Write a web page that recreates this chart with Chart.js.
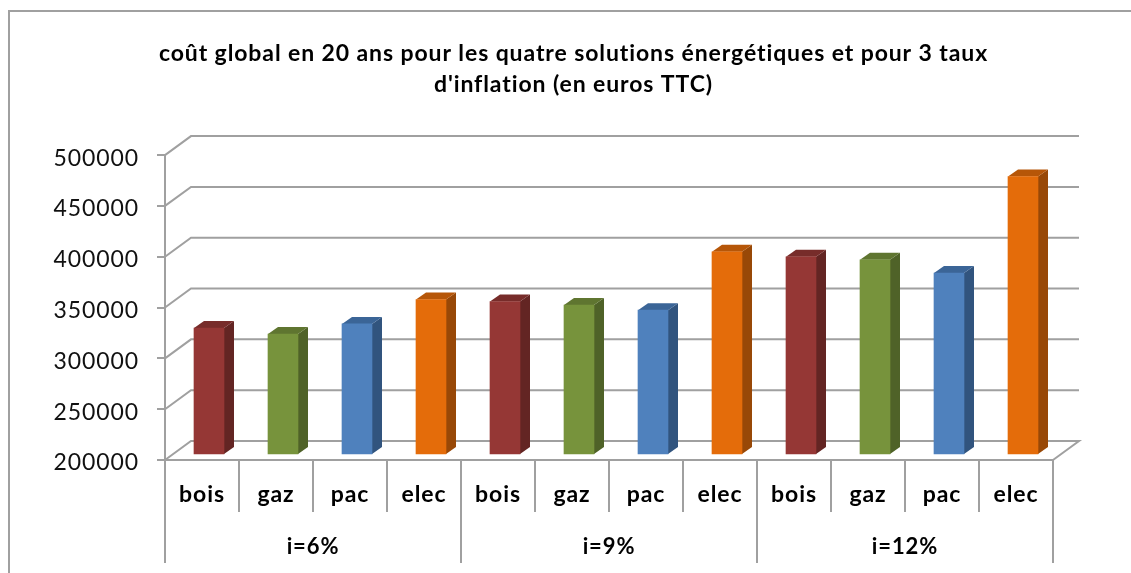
<!DOCTYPE html>
<html>
<head>
<meta charset="utf-8">
<style>
  html, body { margin: 0; padding: 0; background: #fff; overflow: hidden; }
  #wrap { width: 1131px; height: 573px; }
</style>
<script src="https://cdn.jsdelivr.net/npm/chart.js@4"></script>
</head>
<body>
<div id="wrap"><canvas id="chart" width="1131" height="573"></canvas></div>
<script>
const titleLines = ["coût global en 20 ans pour les quatre solutions énergétiques et pour 3 taux", "d'inflation (en euros TTC)"];
const categories = ["bois", "gaz", "pac", "elec"];
const groups = ["i=6%", "i=9%", "i=12%"];
const valuesI6 = [325000, 319000, 329000, 353000];
const valuesI9 = [351000, 347500, 342500, 400000];
const valuesI12 = [395000, 392000, 379000, 474000];
const yTicks = [200000, 250000, 300000, 350000, 400000, 450000, 500000];

const frontColors = ["#953735", "#77933C", "#4F81BD", "#E46C0A"];
const sideColors = ["#632523", "#4F6228", "#31547E", "#984807"];
const topColors = ["#772C2A", "#5F7530", "#3B6597", "#B65608"];

const gridColor = "#a0a0a0";
const labels = [];
groups.forEach(() => categories.forEach((c) => labels.push(c)));
const values = [...valuesI6, ...valuesI9, ...valuesI12];
const barColors = labels.map((_, i) => frontColors[i % 4]);

// Excel 3D look: back wall, then bars moved into the middle of the depth
const depth3d = {
  id: "depth3d",
  beforeDraw(chart) {
    const c = chart.ctx;
    c.letterSpacing = "0.9px"; // the original text is widely spaced
    c.save();
    c.strokeStyle = "#a0a0a0";
    c.lineWidth = 2;
    c.beginPath();
    c.moveTo(9, 573);
    c.lineTo(9, 11);
    c.lineTo(1131, 11);
    c.stroke();
    c.restore();
  },
  beforeDatasetsDraw(chart) {
    const c = chart.ctx;
    const { left, right } = chart.chartArea;
    const y = chart.scales.y;
    const backX = 26, backY = 19;
    c.save();
    c.strokeStyle = gridColor;
    c.lineWidth = 2;
    yTicks.forEach((v) => {
      const py = y.getPixelForValue(v);
      c.beginPath();
      c.moveTo(left, py);
      c.lineTo(left + backX, py - backY);
      c.lineTo(right + backX, py - backY);
      if (v === yTicks[0]) c.lineTo(right, py);
      c.stroke();
    });
    c.restore();

    // side and top faces
    c.save();
    c.translate(7, -5);
    const sideX = 10, sideY = 7;
    chart.getDatasetMeta(0).data.forEach((bar, i) => {
      const p = bar.getProps(["x", "y", "base", "width"]);
      const l = p.x - p.width / 2, r = p.x + p.width / 2;
      c.fillStyle = sideColors[i % 4];
      c.beginPath();
      c.moveTo(r, p.y);
      c.lineTo(r + sideX, p.y - sideY);
      c.lineTo(r + sideX, p.base - sideY);
      c.lineTo(r, p.base);
      c.closePath();
      c.fill();
      c.fillStyle = topColors[i % 4];
      c.beginPath();
      c.moveTo(l, p.y);
      c.lineTo(l + sideX, p.y - sideY);
      c.lineTo(r + sideX, p.y - sideY);
      c.lineTo(r, p.y);
      c.closePath();
      c.fill();
    });
  },
  afterDatasetsDraw(chart) {
    chart.ctx.restore();
  }
};

new Chart(document.getElementById("chart"), {
  type: "bar",
  plugins: [depth3d],
  data: {
    labels: labels,
    datasets: [{
      data: values,
      base: yTicks[0],
      backgroundColor: barColors,
      barThickness: 30,
      clip: false
    }]
  },
  options: {
    responsive: false,
    animation: false,
    layout: { autoPadding: false, padding: { left: 16, right: 0, top: 0, bottom: 0 } },
    plugins: {
      legend: { display: false },
      tooltip: { enabled: false },
      title: {
        display: true,
        text: titleLines,
        color: "#000",
        font: { family: "Lato", size: 23, weight: "bold", lineHeight: 1.35 },
        padding: { top: 38, bottom: 55 }
      }
    },
    scales: {
      y: {
        min: yTicks[0],
        max: yTicks[yTicks.length - 1],
        afterBuildTicks: (s) => { s.ticks = yTicks.map((v) => ({ value: v })); },
        afterFit: (s) => { s.width = 149; },
        grid: { drawOnChartArea: false, tickLength: 8, color: gridColor, lineWidth: 2 },
        border: { color: gridColor, width: 2 },
        ticks: { color: "#111", padding: 18, labelOffset: 3, font: { family: "Lato", size: 23 }, callback: (v) => String(v) }
      },
      // empty scale that only keeps the space right of the plot
      y2: {
        position: "right",
        afterFit: (s) => { s.width = 78; },
        grid: { display: false },
        border: { display: false },
        ticks: { display: false }
      },
      x: {
        afterFit: (s) => { s.height = 52; },
        grid: { offset: true, drawOnChartArea: false, tickLength: 52, color: gridColor, lineWidth: 2 },
        border: { color: gridColor, width: 2 },
        ticks: { color: "#000", padding: -31, maxRotation: 0, autoSkip: false, font: { family: "Lato", size: 23, weight: "bold" } }
      },
      x2: {
        type: "category",
        axis: "x",
        position: "bottom",
        labels: groups,
        offset: true,
        afterFit: (s) => { s.height = 61; },
        grid: { offset: true, drawOnChartArea: false, tickLength: 51, color: gridColor, lineWidth: 2 },
        border: { display: false },
        ticks: { color: "#000", padding: -29, maxRotation: 0, font: { family: "Lato", size: 22, weight: "bold" } }
      }
    }
  }
});
</script>
</body>
</html>
